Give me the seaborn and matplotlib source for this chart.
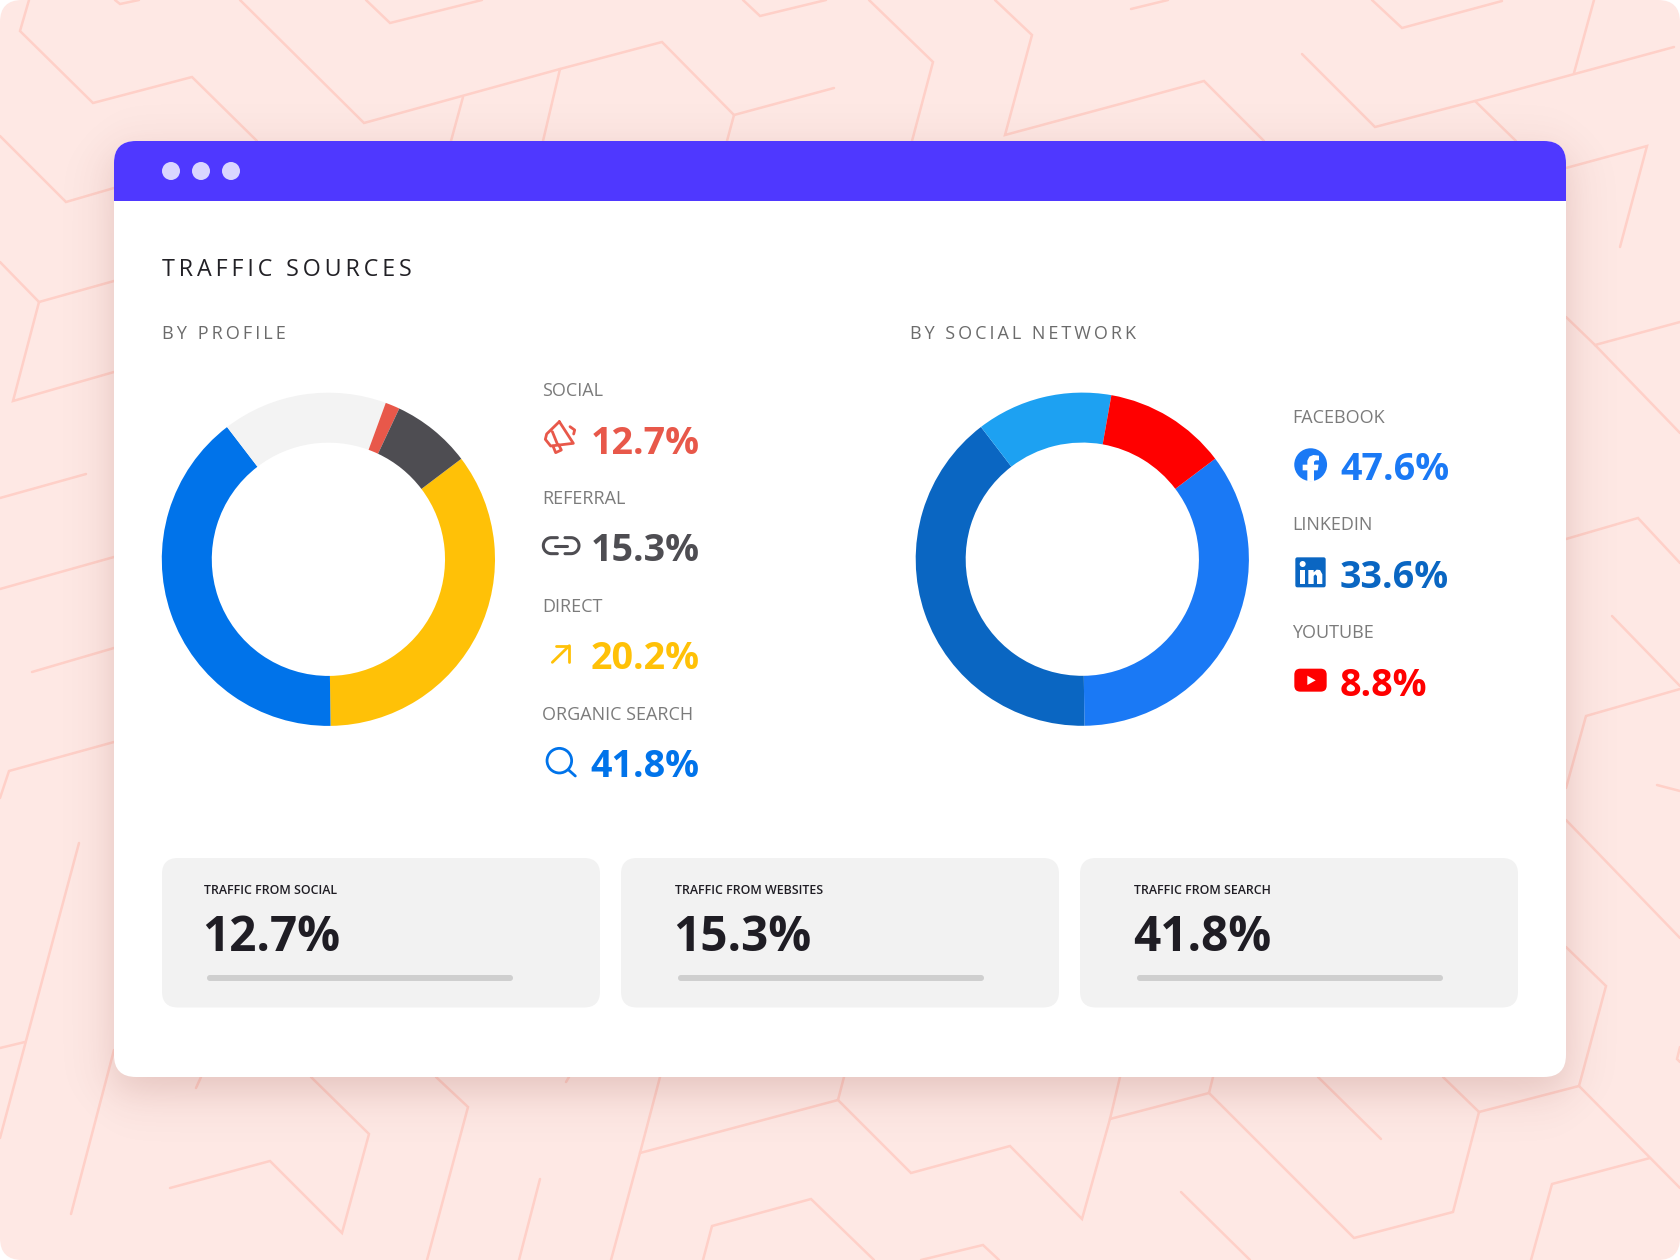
import numpy as np
import matplotlib
matplotlib.use("Agg")
import matplotlib.pyplot as plt
import seaborn as sns
from matplotlib.patches import Circle, FancyBboxPatch, Polygon, Rectangle

# values shown next to the rings
profile_names = ['SOCIAL', 'REFERRAL', 'DIRECT', 'ORGANIC SEARCH']
profile_pct = [12.7, 15.3, 20.2, 41.8]
network_names = ['FACEBOOK', 'LINKEDIN', 'YOUTUBE']
network_pct = [47.6, 33.6, 8.8]
card_names = ['TRAFFIC FROM SOCIAL', 'TRAFFIC FROM WEBSITES', 'TRAFFIC FROM SEARCH']
card_pct = [12.7, 15.3, 41.8]

profile_ring = [35.1, 39.8, 16.0, 1.4, 7.7]
profile_ring_colors = ['#FFC107', '#0073EA', '#F3F3F3', '#E8584A', '#4E4D52']
network_ring = [35.1, 39.8, 13.2, 11.9]
network_ring_colors = ['#1A79F5', '#0A66C2', '#1DA1F2', '#FF0000']

profile_text_colors = ['#E8584A', '#4E4D52', '#FFC107', '#0073EA']
network_text_colors = ['#1A79F5', '#0A66C2', '#FF0000']

# wallpaper lines, in pixels
bg_lines = [
    [(29, 0), (20, 31), (93, 103), (192, 77), (257, 141)],
    [(240, 0), (364, 123), (560, 69), (662, 42), (734, 115), (834, 88)],
    [(734, 115), (727, 141)], [(463, 97), (451, 141)], [(560, 69), (543, 141)],
    [(115, 0), (120, 4), (139, 0)], [(366, 0), (390, 23), (482, 0)],
    [(0, 136), (66, 202), (114, 188)], [(0, 262), (39, 302), (114, 281)],
    [(39, 302), (13, 401), (114, 372)],
    [(0, 498), (86, 474)], [(0, 589), (114, 557)], [(32, 672), (114, 648)],
    [(114, 742), (9, 771), (0, 798)],
    [(743, 0), (760, 16), (826, 0)], [(869, 0), (933, 62), (912, 141)],
    [(995, 0), (1032, 35), (1005, 135), (1120, 104), (1204, 81), (1264, 141)],
    [(1131, 9), (1168, 0)], [(1372, 0), (1402, 28), (1502, 1)],
    [(1302, 54), (1375, 127), (1475, 101), (1674, 47)], [(1475, 101), (1516, 141)],
    [(1574, 73), (1594, 0)], [(1566, 168), (1647, 146), (1620, 247)],
    [(1566, 317), (1595, 345), (1680, 322)], [(1595, 345), (1680, 433)],
    [(1566, 539), (1638, 518), (1680, 563)], [(1612, 616), (1680, 686)],
    [(1566, 788), (1586, 716), (1680, 689)], [(1566, 820), (1680, 938)],
    [(1657, 785), (1680, 791)],
    [(1566, 947), (1606, 986), (1579, 1086), (1479, 1112), (1443, 1077)],
    [(1579, 1086), (1680, 1188)],
    [(1479, 1112), (1453, 1212), (1354, 1238), (1209, 1093), (1110, 1119), (1082, 1219), (1010, 1146), (911, 1173), (838, 1100), (640, 1153), (611, 1260)],
    [(1209, 1093), (1213, 1077)], [(1110, 1119), (1120, 1077)], [(838, 1100), (844, 1077)],
    [(640, 1153), (660, 1077)], [(1318, 1077), (1381, 1139)], [(1181, 1192), (1250, 1260)],
    [(1650, 1158), (1552, 1184), (1531, 1260)], [(1680, 1047), (1677, 1059), (1680, 1062)],
    [(703, 1260), (712, 1226), (811, 1199), (874, 1260)], [(921, 1260), (983, 1245), (999, 1260)],
    [(566, 1082), (569, 1077)], [(79, 843), (0, 1138)], [(25, 1042), (0, 1048)],
    [(114, 1050), (71, 1214)], [(201, 1077), (196, 1088)],
    [(311, 1077), (369, 1134), (342, 1233), (270, 1161), (170, 1188)],
    [(436, 1077), (468, 1107), (427, 1260)], [(540, 1179), (519, 1260)],
]

FONT = ['Open Sans', 'DejaVu Sans']
THIN = '\u2009'


def px(n):
    # font size in points for a size in pixels at dpi 100
    return n * 0.72


def spaced(s):
    return THIN.join(s)


def round_box(ax, x0, y0, x1, y1, r, color, **kw):
    p = FancyBboxPatch((x0, y0), x1 - x0, y1 - y0, boxstyle=f"round,pad=0,rounding_size={r}",
                       facecolor=color, edgecolor='none', **kw)
    ax.add_patch(p)
    return p


def donut(fig, cx, cy, shares, colors):
    R = 166.6
    a = fig.add_axes([(cx - R) / 1680, 1 - (cy + R) / 1260, 2 * R / 1680, 2 * R / 1260], zorder=5)
    a.pie(shares, colors=sns.color_palette(colors), startangle=37.1, counterclock=False, radius=1,
          wedgeprops=dict(width=0.3, linewidth=0))
    a.set_xlim(-1, 1)
    a.set_ylim(-1, 1)
    a.set_axis_off()


sns.set_theme(style="white")
plt.rcParams['font.family'] = FONT

fig = plt.figure(figsize=(16.8, 12.6), dpi=100, facecolor='white')
ax = fig.add_axes([0, 0, 1, 1])

# wallpaper
round_box(ax, 0, 0, 1680, 1260, 22, '#FEE8E4', zorder=0)
for pts in bg_lines:
    xs, ys = zip(*pts)
    ax.plot(xs, ys, color='#FFD0C8', lw=1.8, solid_joinstyle='miter', solid_capstyle='round', zorder=1)

# soft shadow below the window
gx, gy = np.meshgrid(np.arange(1680) + 0.5, np.arange(1260) + 0.5)
SOFT = 26.0
fade_x = 0.25 * (np.tanh((gx - 114) / SOFT) + 1) * (np.tanh((1566 - gx) / SOFT) + 1)
fade_y = 0.25 * (np.tanh((gy - 155) / SOFT) + 1) * (np.tanh((1091 - gy) / SOFT) + 1)
shadow = np.zeros((1260, 1680, 4))
shadow[..., :3] = (120 / 255, 40 / 255, 30 / 255)
shadow[..., 3] = 0.2 * fade_x * fade_y
ax.imshow(shadow, extent=(0, 1680, 1260, 0), origin='upper', aspect='auto', zorder=2, interpolation='nearest')

ax.set_xlim(0, 1680)
ax.set_ylim(1260, 0)
ax.set_axis_off()

# window
round_box(ax, 114, 141, 1566, 1077, 22, 'white', zorder=3)
head = round_box(ax, 114, 141, 1566, 260, 22, '#4F38FF', zorder=3.1)
head.set_clip_path(Rectangle((114, 141), 1452, 60, transform=ax.transData))
for dot_x in [171, 201, 231]:
    ax.add_patch(Circle((dot_x, 171), 9, color='#DAD6FF', lw=0, zorder=4))

ax.text(162, 275.5, spaced('TRAFFIC SOURCES'), fontsize=px(23.2), color='#222126', zorder=4)
ax.text(162, 339, spaced('BY PROFILE'), fontsize=px(18.1), color='#6B6B6B', zorder=4)
ax.text(910, 339, spaced('BY SOCIAL NETWORK'), fontsize=px(18), color='#6B6B6B', zorder=4)

donut(fig, 328.4, 559.3, profile_ring, profile_ring_colors)
donut(fig, 1082.3, 559.2, network_ring, network_ring_colors)

# lists next to the rings
for i, (name, val) in enumerate(zip(profile_names, profile_pct)):
    ax.text(542.5, 396.5 + i * 107.7, name, fontsize=px(18), color='#7B7B7B', zorder=4)
    ax.text(590.5, 453.7 + i * 107.7, f'{val}%', fontsize=px(37.6), fontweight='bold',
            color=profile_text_colors[i], zorder=4)
for i, (name, val) in enumerate(zip(network_names, network_pct)):
    ax.text(1292, 422.7 + i * 107.8, name, fontsize=px(18), color='#7B7B7B', zorder=4)
    ax.text(1340, 480 + i * 107.8, f'{val}%', fontsize=px(37.6), fontweight='bold',
            color=network_text_colors[i], zorder=4)


def left_pt(x, y):
    return 520 + x / 3, 370 + y / 3


def right_pt(x, y):
    return 1270 + x / 3, 390 + y / 3


def stroke(pts, conv, color, lw=2.0):
    xs, ys = zip(*[conv(x, y) for x, y in pts])
    ax.plot(xs, ys, color=color, lw=lw, solid_capstyle='round', solid_joinstyle='round', zorder=4)


# megaphone
c = profile_text_colors[0]
stroke([(118, 155), (160, 220), (92, 228), (76, 208), (80, 192), (118, 155)], left_pt, c)
stroke([(97, 185), (112, 222)], left_pt, c)
stroke([(99, 228), (107, 248), (124, 240), (116, 224)], left_pt, c)
stroke([(150, 170), (164, 180), (161, 192)], left_pt, c)

# chain link
c = profile_text_colors[1]
t = np.linspace(np.pi / 2, 3 * np.pi / 2, 30)
stroke([(112, 503)] + list(zip(94 + 24 * np.cos(t), 527 - 24 * np.sin(t))) + [(112, 551)], left_pt, c, 2.2)
stroke([(135, 503)] + list(zip(153 - 24 * np.cos(t), 527 - 24 * np.sin(t))) + [(135, 551)], left_pt, c, 2.2)
stroke([(105, 527), (142, 527)], left_pt, c, 2.2)

# arrow
c = profile_text_colors[2]
stroke([(97, 877), (148, 827)], left_pt, c)
stroke([(108, 827), (148, 827), (148, 877)], left_pt, c)

# magnifier
c = profile_text_colors[3]
cx, cy = left_pt(118, 1172)
ax.add_patch(Circle((cx, cy), 12.3, fill=False, edgecolor=c, lw=2.0, zorder=4))
stroke([(146, 1200), (166, 1218)], left_pt, c)

# facebook
c = network_text_colors[0]
cx, cy = right_pt(122, 224)
ax.add_patch(Circle((cx, cy), 16.4, color=c, lw=0, zorder=4))
f_shape = [(112, 273), (112, 241), (98, 241), (98, 224), (112, 224), (112, 212), (118, 200), (130, 195),
           (147, 197), (147, 211), (137, 211), (132, 215), (132, 224), (146, 224), (143, 241), (132, 241), (132, 273)]
ax.add_patch(Polygon([right_pt(x, y) for x, y in f_shape], color='white', lw=0, zorder=4.1))

# linkedin
c = network_text_colors[1]
x0, y0 = right_pt(76, 502)
x1, y1 = right_pt(167, 592)
round_box(ax, x0, y0, x1, y1, 2, c, zorder=4)
ax.add_patch(Polygon([right_pt(x, y) for x, y in [(90, 540), (106, 540), (106, 582), (90, 582)]], color='white', lw=0, zorder=4.1))
cx, cy = right_pt(98, 522)
ax.add_patch(Circle((cx, cy), 3, color='white', lw=0, zorder=4.1))
n_shape = [(115, 540), (131, 540), (131, 547), (140, 539), (150, 540), (157, 553), (157, 582), (141, 582),
           (141, 558), (136, 553), (131, 558), (131, 582), (115, 582)]
ax.add_patch(Polygon([right_pt(x, y) for x, y in n_shape], color='white', lw=0, zorder=4.1))

# youtube
c = network_text_colors[2]
x0, y0 = right_pt(73, 836)
x1, y1 = right_pt(170, 905)
round_box(ax, x0, y0, x1, y1, 6, c, zorder=4)
ax.add_patch(Polygon([right_pt(x, y) for x, y in [(112, 857), (112, 885), (137, 871)]], color='white', lw=0, zorder=4.1))

# cards along the bottom
card_left = [162, 621, 1080]
card_right = [600, 1059, 1518]
card_text_x = [204, 675, 1134]
value_x = [202.5, 673.5, 1133]
bar_left = [207, 678, 1137]
for i, (name, val) in enumerate(zip(card_names, card_pct)):
    round_box(ax, card_left[i], 858, card_right[i], 1007.5, 16, '#F2F2F2', zorder=3.5)
    ax.text(card_text_x[i], 894.3, name, fontsize=px(12.4), fontweight=600, color='#1F1D24', zorder=4)
    ax.text(value_x[i], 951, f'{val}%', fontsize=px(47.6), fontweight='bold', color='#1F1D24', zorder=4)
    round_box(ax, bar_left[i], 975, bar_left[i] + 306, 981, 3, '#CFCFCF', zorder=4)

plt.savefig('out.png', dpi=100, facecolor='white')
